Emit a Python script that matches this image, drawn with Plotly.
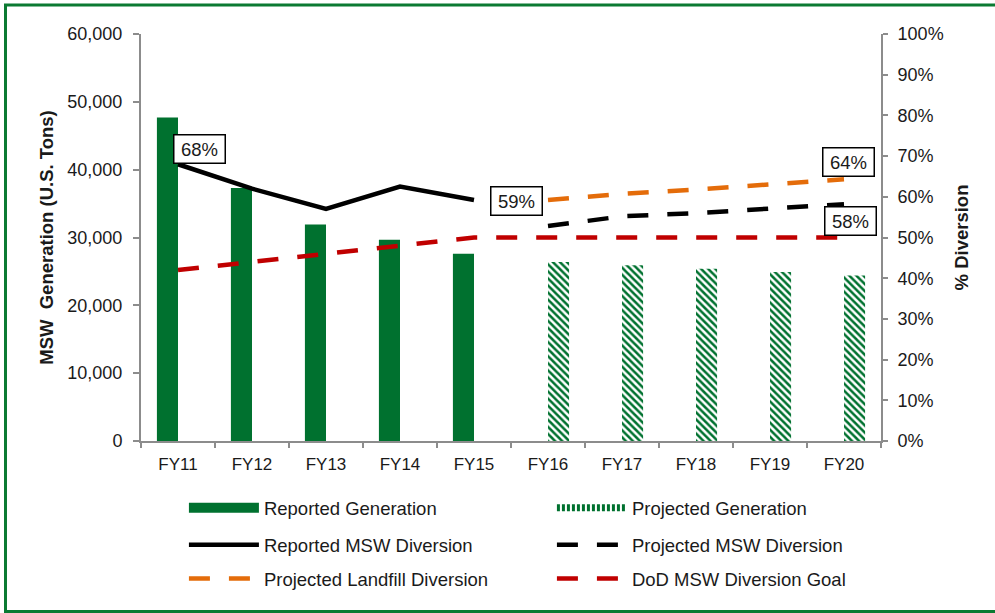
import plotly.graph_objects as go

categories = ["FY11", "FY12", "FY13", "FY14", "FY15", "FY16", "FY17", "FY18", "FY19", "FY20"]
reported_generation = [47700, 37300, 31900, 29650, 27600, None, None, None, None, None]
projected_generation = [None, None, None, None, None, 26400, 25900, 25400, 24900, 24400]
reported_diversion = [68, 62, 57, 62.5, 59.2, None, None, None, None, None]
projected_diversion = [None, None, None, None, None, 52.8, 55.2, 56.0, 57.0, 58.2]
projected_landfill = [None, None, None, None, None, 59.2, 60.7, 61.8, 63.1, 64.3]
dod_goal = [42, 44, 46, 48, 50, 50, 50, 50, 50, 50]
left_ticks = [0, 10000, 20000, 30000, 40000, 50000, 60000]
right_ticks = list(range(0, 101, 10))
right_labels = [f"{v}%" for v in right_ticks]

GREEN = "#00712F"
FONT = "Liberation Sans, Arial, sans-serif"
TXT = "#1a1a1a"
AX = "#8c8c8c"
DASH = "21px,19px"

fig = go.Figure()
fig.add_trace(go.Bar(x=categories, y=reported_generation, name="Reported Generation",
                     marker=dict(color=GREEN, line=dict(width=0)), showlegend=False))
fig.add_trace(go.Bar(x=categories, y=projected_generation, name="Projected Generation",
                     marker=dict(color="white", line=dict(width=0),
                                 pattern=dict(shape="\\", fgcolor=GREEN, bgcolor="white",
                                              size=5, solidity=0.5, fillmode="replace")),
                     showlegend=False))
# legend-only entries standing in for the bar series (long swatches like the original)
fig.add_trace(go.Scatter(x=[None], y=[None], name="Reported Generation", mode="lines",
                         line=dict(color=GREEN, width=15), legend="legend", hoverinfo="skip"))
fig.add_trace(go.Scatter(x=[None], y=[None], name="Projected Generation", mode="lines",
                         line=dict(color=GREEN, width=7, dash="3px,2px"), legend="legend", hoverinfo="skip"))
fig.add_trace(go.Scatter(x=categories, y=reported_diversion, name="Reported MSW Diversion", yaxis="y2",
                         mode="lines", line=dict(color="black", width=4.5), legend="legend2"))
fig.add_trace(go.Scatter(x=categories, y=projected_diversion, name="Projected MSW Diversion", yaxis="y2",
                         mode="lines", line=dict(color="black", width=4.5, dash=DASH), legend="legend2"))
fig.add_trace(go.Scatter(x=categories, y=projected_landfill, name="Projected Landfill Diversion", yaxis="y2",
                         mode="lines", line=dict(color="#E46C0A", width=4.5, dash=DASH), legend="legend3"))
fig.add_trace(go.Scatter(x=categories, y=dod_goal, name="DoD MSW Diversion Goal", yaxis="y2",
                         mode="lines", line=dict(color="#C00000", width=4.5, dash=DASH), legend="legend3"))

def box(text, x, y, xanchor, yanchor, xshift, yshift):
    return dict(text=text, x=x, y=y, xref="x", yref="y2", showarrow=False,
                xanchor=xanchor, yanchor=yanchor, xshift=xshift, yshift=yshift,
                bgcolor="white", bordercolor="black", borderwidth=1.5, borderpad=1,
                width=48, height=25, font=dict(family=FONT, size=18.5, color=TXT))

annotations = [
    box("68%", categories[0], reported_diversion[0], "left", "bottom", -5, 0),
    box("59%", categories[5], projected_landfill[5], "right", "middle", -5, -1),
    box("64%", categories[9], projected_landfill[9], "center", "bottom", 4, 2),
    box("58%", categories[9], projected_diversion[9], "center", "top", 6, -2),
]

legend_common = dict(orientation="h", xanchor="left", yanchor="middle", x=0.058,
                     itemwidth=70, entrywidthmode="pixels", entrywidth=283, bgcolor="rgba(0,0,0,0)",
                     font=dict(family=FONT, size=18.5, color=TXT), traceorder="normal")

fig.update_layout(
    width=995, height=613,
    margin=dict(l=141, r=114, t=34, b=172),
    paper_bgcolor="white", plot_bgcolor="white",
    font=dict(family=FONT, size=17, color=TXT),
    barmode="group", bargap=0.43, bargroupgap=0,
    showlegend=True,
    legend=dict(y=-0.165, **legend_common),
    legend2=dict(y=-0.256, **legend_common),
    legend3=dict(y=-0.339, **legend_common),
    xaxis=dict(type="category", showline=True, linecolor=AX, linewidth=2, ticks="outside",
               tickson="boundaries", ticklen=5, tickcolor=AX, tickwidth=1.5, showgrid=False,
               ticklabelstandoff=7,
               tickfont=dict(family=FONT, size=17, color=TXT), zeroline=False),
    yaxis=dict(range=[0, 60000], tickvals=left_ticks, tickformat=",d", showline=True, linecolor=AX,
               linewidth=2, ticks="outside", ticklen=6, tickcolor=AX, tickwidth=1.5, showgrid=False,
               ticklabelstandoff=7,
               zeroline=False, tickfont=dict(family=FONT, size=18, color=TXT),
               title=dict(text="<b>MSW\u00a0 Generation (U.S. Tons)</b>", standoff=9,
                          font=dict(family=FONT, size=18.5, color=TXT))),
    yaxis2=dict(range=[0, 100], tickvals=right_ticks, ticktext=right_labels, overlaying="y", side="right",
                showline=True, linecolor=AX, linewidth=2, ticks="outside", ticklen=5, tickcolor=AX,
                tickwidth=1.5, showgrid=False, zeroline=False, ticklabelstandoff=6,
                tickfont=dict(family=FONT, size=18, color=TXT),
                title=dict(text="<b>% Diversion</b>", standoff=12,
                           font=dict(family=FONT, size=18.5, color=TXT))),
    annotations=annotations,
    shapes=[dict(type="rect", xref="paper", yref="paper", x0=-0.1831, x1=1.17, y0=-0.419, y1=1.0713,
                 line=dict(color="#0B7A32", width=3), fillcolor="rgba(0,0,0,0)", layer="below")],
)

fig.write_html("out.html", config={"displayModeBar": False},
               post_script="document.body.style.margin='0';document.body.style.overflow='hidden';")
